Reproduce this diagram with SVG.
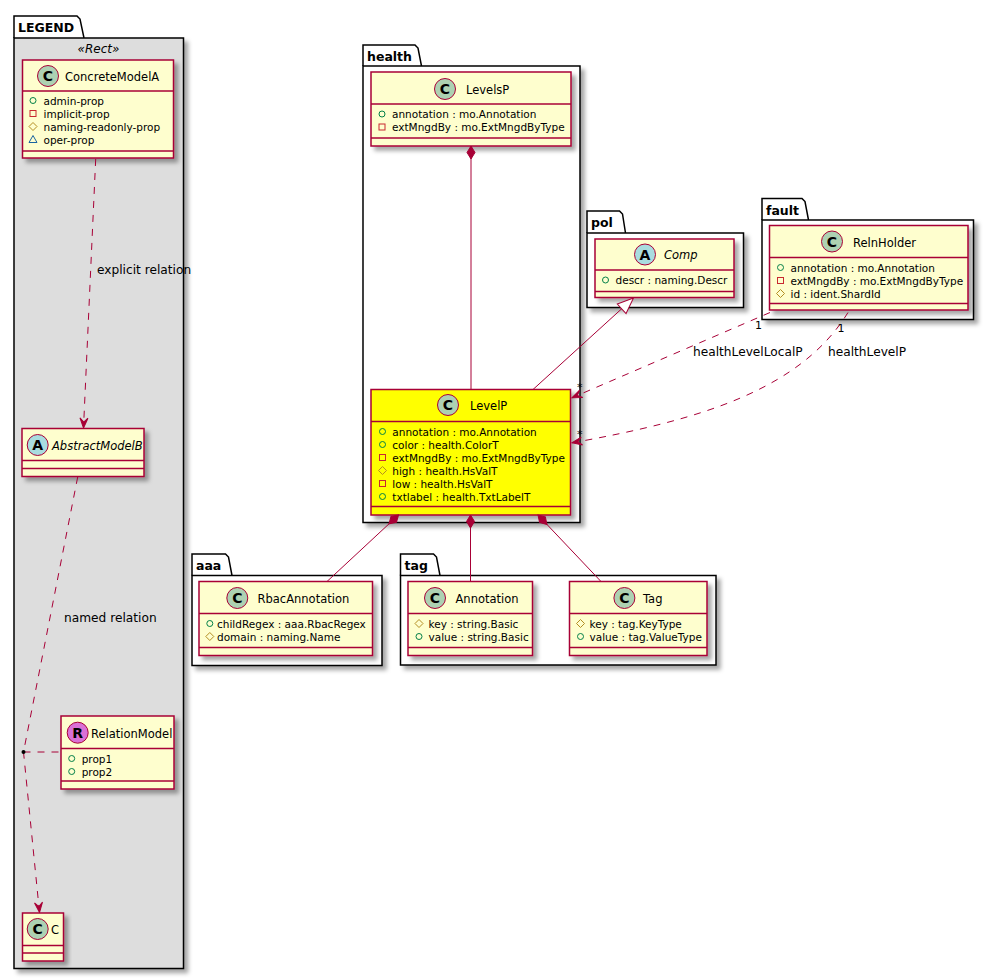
<svg xmlns="http://www.w3.org/2000/svg" xmlns:xlink="http://www.w3.org/1999/xlink" width="998" height="980" viewBox="0 0 998 980">
<style>
text{font-family:"DejaVu Sans","Liberation Sans",sans-serif;fill:#000}
.pkg{fill:#fff;stroke:#000;stroke-width:1.5}
.pkgtab{fill:#fff;stroke:#000;stroke-width:1.5}
.plbl{font-size:12.5px;font-weight:bold}
.cls{fill:#FEFECE;stroke:#A80036;stroke-width:1.5}
.sep{stroke:#A80036;stroke-width:1.5}
.name{font-size:11.5px}
.ital{font-style:italic}
.attr{font-size:10.5px}
.spot{stroke:#A80036;stroke-width:1}
.sC{fill:#ADD1B2}.sA{fill:#A9DCDF}.sR{fill:#DA70D6}
.lt{font-size:14px;font-weight:bold;text-anchor:middle}
.edge{fill:none;stroke:#A80036;stroke-width:1}
.dash{stroke-dasharray:7,7}
.elbl{font-size:12.2px}
.mult{font-size:11px}
</style>
<defs>
<filter id="sh" x="-10%" y="-10%" width="130%" height="130%">
<feDropShadow dx="4" dy="4" stdDeviation="2" flood-color="#000" flood-opacity="0.35"/>
</filter>
<g id="pub"><circle r="3" fill="none" stroke="#038048" stroke-width="1"/></g>
<g id="priv"><rect x="-3" y="-3" width="6" height="6" fill="none" stroke="#C82930" stroke-width="1"/></g>
<g id="prot"><polygon points="0,-4 4,0 0,4 -4,0" fill="none" stroke="#B38D22" stroke-width="1"/></g>
<g id="pkgv"><polygon points="0,-4 4,3 -4,3" fill="none" stroke="#1963A0" stroke-width="1"/></g>
<marker id="arr" viewBox="-11 -5 12 10" markerWidth="12" markerHeight="10" refX="0" refY="0" orient="auto" markerUnits="userSpaceOnUse">
<path d="M0,0 L-10,-4 L-6,0 L-10,4 Z" fill="#A80036" stroke="#A80036" stroke-width="1" stroke-dasharray="none"/>
</marker>
<marker id="dia" viewBox="-1 -5 15 10" markerWidth="15" markerHeight="10" refX="0" refY="0" orient="auto" markerUnits="userSpaceOnUse">
<path d="M0,0 L6.5,-4 L13,0 L6.5,4 Z" fill="#A80036" stroke="#A80036" stroke-width="1"/>
</marker>
<marker id="tri" viewBox="-18 -8 19 16" markerWidth="19" markerHeight="16" refX="0" refY="0" orient="auto" markerUnits="userSpaceOnUse">
<path d="M0,0 L-16,-6.5 L-16,6.5 Z" fill="#fff" stroke="#A80036" stroke-width="1"/>
</marker>
</defs>
<rect width="998" height="980" fill="#fff"/>

<!-- packages -->
<g id="pkg-legend">
<path class="pkgtab" d="M14,38 V16 H77 L80,19 L84,38"/>
<rect class="pkg" x="14" y="38" width="169.5" height="930.5" style="fill:#DDDDDD" filter="url(#sh)"/>
<text class="plbl" x="18" y="32">LEGEND</text>
<text class="ital" x="98.5" y="53" font-size="12" text-anchor="middle">«Rect»</text>
</g>
<g id="pkg-health">
<path class="pkgtab" d="M363,66 V45 H415 L418,48 L421.5,66"/>
<rect class="pkg" x="363" y="66" width="217" height="456.5" filter="url(#sh)"/>
<text class="plbl" x="367" y="61">health</text>
</g>
<g id="pkg-pol">
<path class="pkgtab" d="M587,233 V211 H619.5 L622.5,214 L625.5,233"/>
<rect class="pkg" x="587" y="233" width="156.5" height="74.5" filter="url(#sh)"/>
<text class="plbl" x="591" y="227">pol</text>
</g>
<g id="pkg-fault">
<path class="pkgtab" d="M762,220 V198.5 H802 L805,201.5 L808.5,220"/>
<rect class="pkg" x="762" y="220" width="211.5" height="99.5" filter="url(#sh)"/>
<text class="plbl" x="766" y="214.5">fault</text>
</g>
<g id="pkg-aaa">
<path class="pkgtab" d="M192,575.5 V554 H225.5 L228.5,557 L232,575.5"/>
<rect class="pkg" x="192" y="575.5" width="190" height="90" filter="url(#sh)"/>
<text class="plbl" x="196" y="570">aaa</text>
</g>
<g id="pkg-tag">
<path class="pkgtab" d="M400.5,575.5 V554 H433.5 L436.5,557 L440,575.5"/>
<rect class="pkg" x="400.5" y="575.5" width="315.5" height="89.5" filter="url(#sh)"/>
<text class="plbl" x="404.5" y="570">tag</text>
</g>

<!-- classes -->
<g id="ConcreteModelA">
<rect class="cls" x="22.5" y="60" width="151" height="98" filter="url(#sh)"/>
<line class="sep" x1="22.5" y1="91" x2="173.5" y2="91"/>
<line class="sep" x1="22.5" y1="151" x2="173.5" y2="151"/>
<circle class="spot sC" cx="48" cy="76" r="10.5"/>
<text class="lt" x="48" y="81">C</text>
<text class="name" x="65" y="81">ConcreteModelA</text>
<use xlink:href="#pub" x="33" y="100.5"/><text class="attr" x="43.5" y="104.5">admin-prop</text>
<use xlink:href="#priv" x="33" y="113.5"/><text class="attr" x="43.5" y="117.5">implicit-prop</text>
<use xlink:href="#prot" x="33" y="126.5"/><text class="attr" x="43.5" y="130.5">naming-readonly-prop</text>
<use xlink:href="#pkgv" x="33" y="139.5"/><text class="attr" x="43.5" y="143.5">oper-prop</text>
</g>
<g id="AbstractModelB">
<rect class="cls" x="22" y="428.5" width="122" height="48" filter="url(#sh)"/>
<line class="sep" x1="22" y1="460.5" x2="144" y2="460.5"/>
<line class="sep" x1="22" y1="468.5" x2="144" y2="468.5"/>
<circle class="spot sA" cx="37.7" cy="445" r="10.5"/>
<text class="lt" x="37.7" y="450">A</text>
<text class="name ital" x="52" y="449.5">AbstractModelB</text>
</g>
<g id="RelationModel">
<rect class="cls" x="61" y="716" width="113" height="73" filter="url(#sh)"/>
<line class="sep" x1="61" y1="748.5" x2="174" y2="748.5"/>
<line class="sep" x1="61" y1="781" x2="174" y2="781"/>
<circle class="spot sR" cx="77.7" cy="732.7" r="10.5"/>
<text class="lt" x="77.7" y="737.7">R</text>
<text class="name" x="91" y="737.5">RelationModel</text>
<use xlink:href="#pub" x="71.7" y="758.5"/><text class="attr" x="81.7" y="762.5">prop1</text>
<use xlink:href="#pub" x="71.7" y="771.5"/><text class="attr" x="81.7" y="775.5">prop2</text>
</g>
<g id="C">
<rect class="cls" x="22.5" y="913" width="41" height="48" filter="url(#sh)"/>
<line class="sep" x1="22.5" y1="945.5" x2="63.5" y2="945.5"/>
<line class="sep" x1="22.5" y1="953" x2="63.5" y2="953"/>
<circle class="spot sC" cx="37.7" cy="929" r="10.5"/>
<text class="lt" x="37.7" y="934">C</text>
<text class="name" x="51" y="934">C</text>
</g>
<g id="LevelsP">
<rect class="cls" x="371" y="72" width="200" height="74" filter="url(#sh)"/>
<line class="sep" x1="371" y1="104" x2="571" y2="104"/>
<line class="sep" x1="371" y1="138" x2="571" y2="138"/>
<circle class="spot sC" cx="445" cy="89" r="10.5"/>
<text class="lt" x="445" y="94">C</text>
<text class="name" x="466" y="94">LevelsP</text>
<use xlink:href="#pub" x="382" y="114"/><text class="attr" x="392" y="118">annotation : mo.Annotation</text>
<use xlink:href="#priv" x="382" y="127"/><text class="attr" x="392" y="131">extMngdBy : mo.ExtMngdByType</text>
</g>
<g id="LevelP">
<rect class="cls" x="371" y="389.5" width="199.5" height="125.5" style="fill:#FFFF00" filter="url(#sh)"/>
<line class="sep" x1="371" y1="421.5" x2="570.5" y2="421.5"/>
<line class="sep" x1="371" y1="506.5" x2="570.5" y2="506.5"/>
<circle class="spot sC" cx="448" cy="405" r="10.5"/>
<text class="lt" x="448" y="410">C</text>
<text class="name" x="470" y="410">LevelP</text>
<use xlink:href="#pub" x="382.5" y="431.5"/><text class="attr" x="392.3" y="435.5">annotation : mo.Annotation</text>
<use xlink:href="#pub" x="382.5" y="444.5"/><text class="attr" x="392.3" y="448.5">color : health.ColorT</text>
<use xlink:href="#priv" x="382.5" y="457.5"/><text class="attr" x="392.3" y="461.5">extMngdBy : mo.ExtMngdByType</text>
<use xlink:href="#prot" x="382.5" y="470.5"/><text class="attr" x="392.3" y="474.5">high : health.HsValT</text>
<use xlink:href="#priv" x="382.5" y="483.5"/><text class="attr" x="392.3" y="487.5">low : health.HsValT</text>
<use xlink:href="#pub" x="382.5" y="496.5"/><text class="attr" x="392.3" y="500.5">txtlabel : health.TxtLabelT</text>
</g>
<g id="Comp">
<rect class="cls" x="595" y="239" width="139" height="58.5" filter="url(#sh)"/>
<line class="sep" x1="595" y1="270" x2="734" y2="270"/>
<line class="sep" x1="595" y1="291.5" x2="734" y2="291.5"/>
<circle class="spot sA" cx="645" cy="254.5" r="10.5"/>
<text class="lt" x="645" y="259.5">A</text>
<text class="name ital" x="664" y="259">Comp</text>
<use xlink:href="#pub" x="605.5" y="280"/><text class="attr" x="615.5" y="284">descr : naming.Descr</text>
</g>
<g id="RelnHolder">
<rect class="cls" x="769.5" y="225.5" width="198.5" height="84.5" filter="url(#sh)"/>
<line class="sep" x1="769.5" y1="257.5" x2="968" y2="257.5"/>
<line class="sep" x1="769.5" y1="303.5" x2="968" y2="303.5"/>
<circle class="spot sC" cx="832" cy="241.5" r="10.5"/>
<text class="lt" x="832" y="246.5">C</text>
<text class="name" x="853" y="246.5">RelnHolder</text>
<use xlink:href="#pub" x="780.5" y="267.5"/><text class="attr" x="790.5" y="271.5">annotation : mo.Annotation</text>
<use xlink:href="#priv" x="780.5" y="280.5"/><text class="attr" x="790.5" y="284.5">extMngdBy : mo.ExtMngdByType</text>
<use xlink:href="#prot" x="780.5" y="293.5"/><text class="attr" x="790.5" y="297.5">id : ident.ShardId</text>
</g>
<g id="RbacAnnotation">
<rect class="cls" x="199" y="581.5" width="173.5" height="74" filter="url(#sh)"/>
<line class="sep" x1="199" y1="613.5" x2="372.5" y2="613.5"/>
<line class="sep" x1="199" y1="647.5" x2="372.5" y2="647.5"/>
<circle class="spot sC" cx="237.3" cy="598" r="10.5"/>
<text class="lt" x="237.3" y="603">C</text>
<text class="name" x="257.5" y="603">RbacAnnotation</text>
<use xlink:href="#pub" x="209.8" y="623.5"/><text class="attr" x="217" y="627.5">childRegex : aaa.RbacRegex</text>
<use xlink:href="#prot" x="209.8" y="636.5"/><text class="attr" x="217" y="640.5">domain : naming.Name</text>
</g>
<g id="Annotation">
<rect class="cls" x="408" y="581.5" width="124.5" height="74" filter="url(#sh)"/>
<line class="sep" x1="408" y1="613.5" x2="532.5" y2="613.5"/>
<line class="sep" x1="408" y1="647.5" x2="532.5" y2="647.5"/>
<circle class="spot sC" cx="435" cy="598" r="10.5"/>
<text class="lt" x="435" y="603">C</text>
<text class="name" x="455.5" y="603">Annotation</text>
<use xlink:href="#prot" x="419" y="623.5"/><text class="attr" x="428.5" y="627.5">key : string.Basic</text>
<use xlink:href="#pub" x="419" y="636.5"/><text class="attr" x="428.5" y="640.5">value : string.Basic</text>
</g>
<g id="Tag">
<rect class="cls" x="569.5" y="581.5" width="137.5" height="74" filter="url(#sh)"/>
<line class="sep" x1="569.5" y1="613.5" x2="707" y2="613.5"/>
<line class="sep" x1="569.5" y1="647.5" x2="707" y2="647.5"/>
<circle class="spot sC" cx="624.4" cy="598" r="10.5"/>
<text class="lt" x="624.4" y="603">C</text>
<text class="name" x="643" y="603">Tag</text>
<use xlink:href="#prot" x="580.5" y="623.5"/><text class="attr" x="589.5" y="627.5">key : tag.KeyType</text>
<use xlink:href="#pub" x="580.5" y="636.5"/><text class="attr" x="589.5" y="640.5">value : tag.ValueType</text>
</g>

<!-- connectors -->
<g id="connectors">
<path class="edge dash" d="M95.7,159 L83.5,428" marker-end="url(#arr)"/>
<text class="elbl" x="97" y="273.5">explicit relation</text>
<path class="edge dash" d="M77.7,477 L23.5,752 L39.5,912.5" marker-end="url(#arr)"/>
<path class="edge dash" d="M23.5,752 L61,752"/>
<circle cx="23.5" cy="752" r="2" fill="#000"/>
<text class="elbl" x="64" y="622">named relation</text>
<path class="edge" d="M471,146 L471,389.5" marker-start="url(#dia)"/>
<path class="edge" d="M398.5,515 L327,581.5" marker-start="url(#dia)"/>
<path class="edge" d="M470.5,515 L470.5,581.5" marker-start="url(#dia)"/>
<path class="edge" d="M538,515 L601,581.5" marker-start="url(#dia)"/>
<path class="edge" d="M533,389.5 L633.5,298" marker-end="url(#tri)"/>
<path class="edge dash" d="M770,312.5 L572,397.8" marker-end="url(#arr)"/>
<path class="edge dash" d="M848,312.5 C800,390 700,420 572,442.8" marker-end="url(#arr)"/>
<text class="elbl" x="693" y="356">healthLevelLocalP</text>
<text class="elbl" x="828" y="356">healthLevelP</text>
<text class="mult" x="755" y="328.5">1</text>
<text class="mult" x="837.5" y="332">1</text>
<text class="mult" x="577" y="391">*</text>
<text class="mult" x="577" y="438">*</text>
</g>
</svg>
